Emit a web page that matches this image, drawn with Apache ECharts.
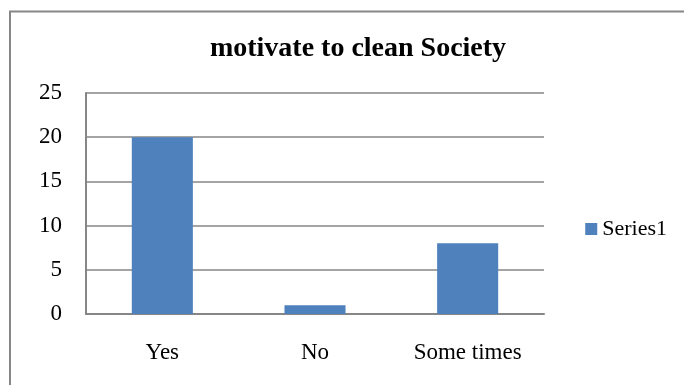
<!DOCTYPE html>
<html>
<head>
<meta charset="utf-8">
<script src="https://cdn.jsdelivr.net/npm/echarts@6/dist/echarts.min.js"></script>
<style>
  html, body { margin: 0; padding: 0; background: #fff; }
  #chartContainer { width: 684px; height: 385px; }
</style>
</head>
<body>
<div id="chartContainer"></div>
<script>
const categories = ['Yes', 'No', 'Some times'];
const series1 = [20, 1, 8];
const yTicks = [0, 5, 10, 15, 20, 25];

const font = '"Liberation Serif", "Times New Roman", serif';
const gray = '#868686';

const myChart = echarts.init(document.getElementById('chartContainer'));

const option = {
    animation: false,
    title: {
        text: 'motivate to clean Society',
        left: 353,
        top: 30,
        textAlign: 'center',
        textStyle: { fontFamily: font, fontSize: 28, fontWeight: 'bold', color: '#000' }
    },
    // outer chart frame, runs off the right and bottom of the picture
    graphic: [{
        type: 'rect',
        shape: { x: 10, y: 11.5, width: 700, height: 400 },
        style: { fill: 'none', stroke: gray, lineWidth: 2 },
        silent: true
    }],
    legend: {
        data: ['Series1'],
        right: 12,
        top: 213,
        icon: 'rect',
        itemWidth: 12,
        itemHeight: 12,
        itemGap: 4,
        textStyle: { fontFamily: font, fontSize: 22, color: '#000' }
    },
    grid: { left: 86, top: 93, width: 458, height: 221 },
    xAxis: {
        type: 'category',
        data: categories,
        axisLine: { lineStyle: { color: gray, width: 2 } },
        axisTick: { show: false },
        axisLabel: { fontFamily: font, fontSize: 23, color: '#000', margin: 27 }
    },
    yAxis: {
        type: 'value',
        min: yTicks[0],
        max: yTicks[yTicks.length - 1],
        interval: 5,
        axisLine: { show: true, lineStyle: { color: gray, width: 2 } },
        axisTick: { show: false },
        splitLine: { lineStyle: { color: gray, width: 1.5 } },
        axisLabel: { fontFamily: font, fontSize: 23, color: '#000', margin: 24 }
    },
    series: [{
        name: 'Series1',
        type: 'bar',
        data: series1,
        barWidth: '40%',
        itemStyle: { color: '#4F81BD' }
    }]
};

myChart.setOption(option);
</script>
</body>
</html>
